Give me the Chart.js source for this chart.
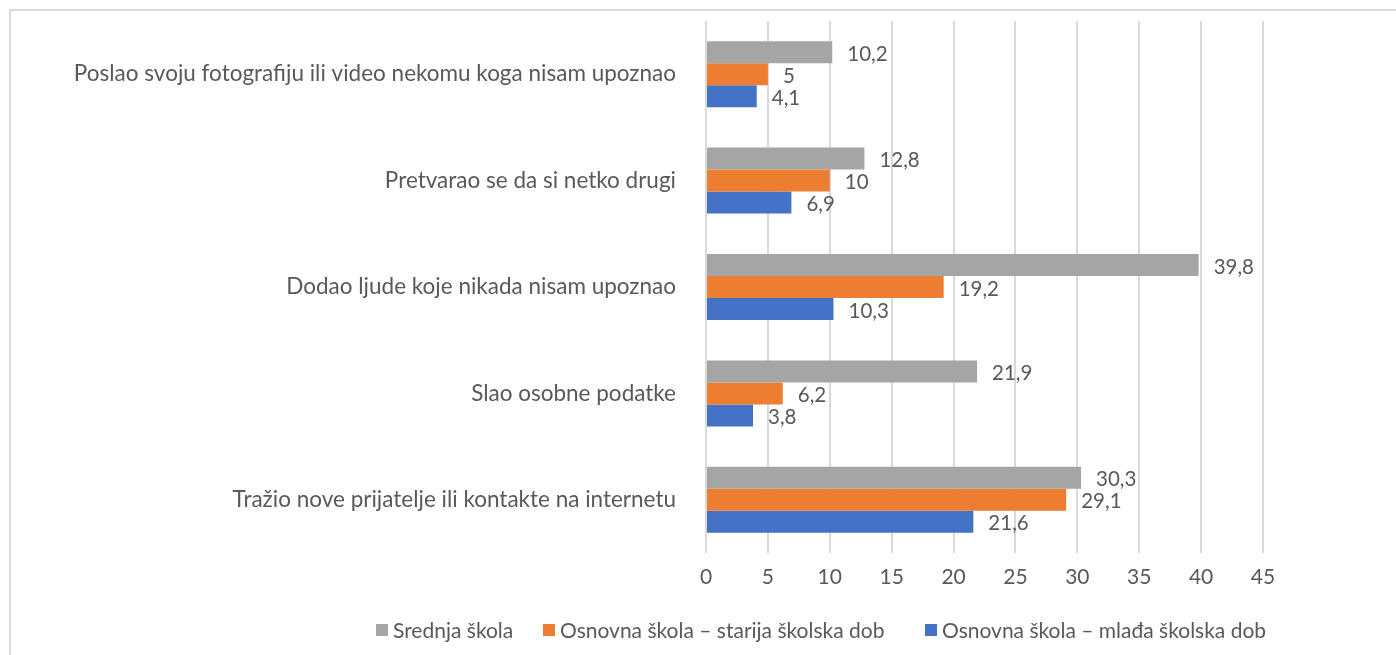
<!DOCTYPE html>
<html>
<head>
<meta charset="utf-8">
<script src="https://cdn.jsdelivr.net/npm/chart.js@4.4.0/dist/chart.umd.min.js"></script>
<style>
  html, body { margin: 0; padding: 0; background: #fff; }
  #wrap { position: relative; width: 1396px; height: 655px; overflow: hidden; }
  #frame { position: absolute; left: 9px; top: 9px; width: 1400px; height: 700px;
           border-left: 2px solid #d9d9d9; border-top: 2px solid #d9d9d9; }
  canvas { position: absolute; left: 0; top: 0; }
</style>
</head>
<body>
<div id="wrap">
  <div id="frame"></div>
  <canvas id="chart" width="1396" height="655"></canvas>
</div>
<script>
// categories, top to bottom
const categories = [
    'Poslao svoju fotografiju ili video nekomu koga nisam upoznao',
    'Pretvarao se da si netko drugi',
    'Dodao ljude koje nikada nisam upoznao',
    'Slao osobne podatke',
    'Tražio nove prijatelje ili kontakte na internetu'
];

// series
const srednja = [10.2, 12.8, 39.8, 21.9, 30.3];
const starija = [5, 10, 19.2, 6.2, 29.1];
const mladja = [4.1, 6.9, 10.3, 3.8, 21.6];

const seriesNames = [
    'Srednja škola',
    'Osnovna škola – starija školska dob',
    'Osnovna škola – mlađa školska dob'
];

const xTicks = [0, 5, 10, 15, 20, 25, 30, 35, 40, 45];

const FONT = 'Lato';
const TEXT = '#595959';

// value labels at end of each bar
const valueLabels = {
    id: 'valueLabels',
    afterDatasetsDraw(chart) {
        const c = chart.ctx;
        c.save();
        c.font = '20.5px ' + FONT;
        c.fillStyle = TEXT;
        c.textAlign = 'left';
        c.textBaseline = 'middle';
        chart.data.datasets.forEach((ds, i) => {
            chart.getDatasetMeta(i).data.forEach((bar, j) => {
                const txt = String(ds.data[j]).replace('.', ',');
                c.fillText(txt, bar.x + 15, bar.y + 2);
            });
        });
        c.restore();
    }
};

// legend drawn to match the original spacing
const customLegend = {
    id: 'customLegend',
    afterDraw(chart) {
        const c = chart.ctx;
        const starts = [376, 543, 925];
        c.save();
        c.font = '21px ' + FONT;
        c.textBaseline = 'middle';
        chart.data.datasets.forEach((ds, i) => {
            const x = starts[i];
            c.fillStyle = ds.backgroundColor;
            c.fillRect(x, 624, 12, 12);
            c.fillStyle = TEXT;
            c.fillText(ds.label, x + 17, 631);
        });
        c.restore();
    }
};

new Chart(document.getElementById('chart'), {
    type: 'bar',
    data: {
        labels: categories,
        datasets: [
            { label: seriesNames[0], data: srednja, backgroundColor: '#A5A5A5' },
            { label: seriesNames[1], data: starija, backgroundColor: '#ED7D31' },
            { label: seriesNames[2], data: mladja, backgroundColor: '#4472C4' }
        ]
    },
    options: {
        responsive: false,
        animation: false,
        indexAxis: 'y',
        categoryPercentage: 0.62,
        barPercentage: 1.0,
        layout: { padding: { top: 21, right: 133, bottom: 0, left: 0 } },
        scales: {
            x: {
                min: 0,
                max: 45,
                afterBuildTicks(axis) { axis.ticks = xTicks.map(v => ({ value: v })); },
                afterFit(axis) {
                    axis.height = 102;
                    axis.paddingLeft = 0;
                    axis.paddingRight = 0;
                },
                grid: { color: '#d9d9d9', lineWidth: 2, drawTicks: false },
                border: { display: false },
                ticks: { color: TEXT, font: { family: FONT, size: 21 }, padding: 12 }
            },
            y: {
                afterFit(axis) {
                    axis.width = 706;
                    axis.paddingTop = 0;
                    axis.paddingBottom = 0;
                },
                grid: { display: false, drawTicks: false },
                border: { display: false },
                ticks: { color: TEXT, font: { family: FONT, size: 22.5 }, padding: 30 }
            }
        },
        plugins: {
            legend: { display: false },
            tooltip: { enabled: false }
        }
    },
    plugins: [valueLabels, customLegend]
});
</script>
</body>
</html>
